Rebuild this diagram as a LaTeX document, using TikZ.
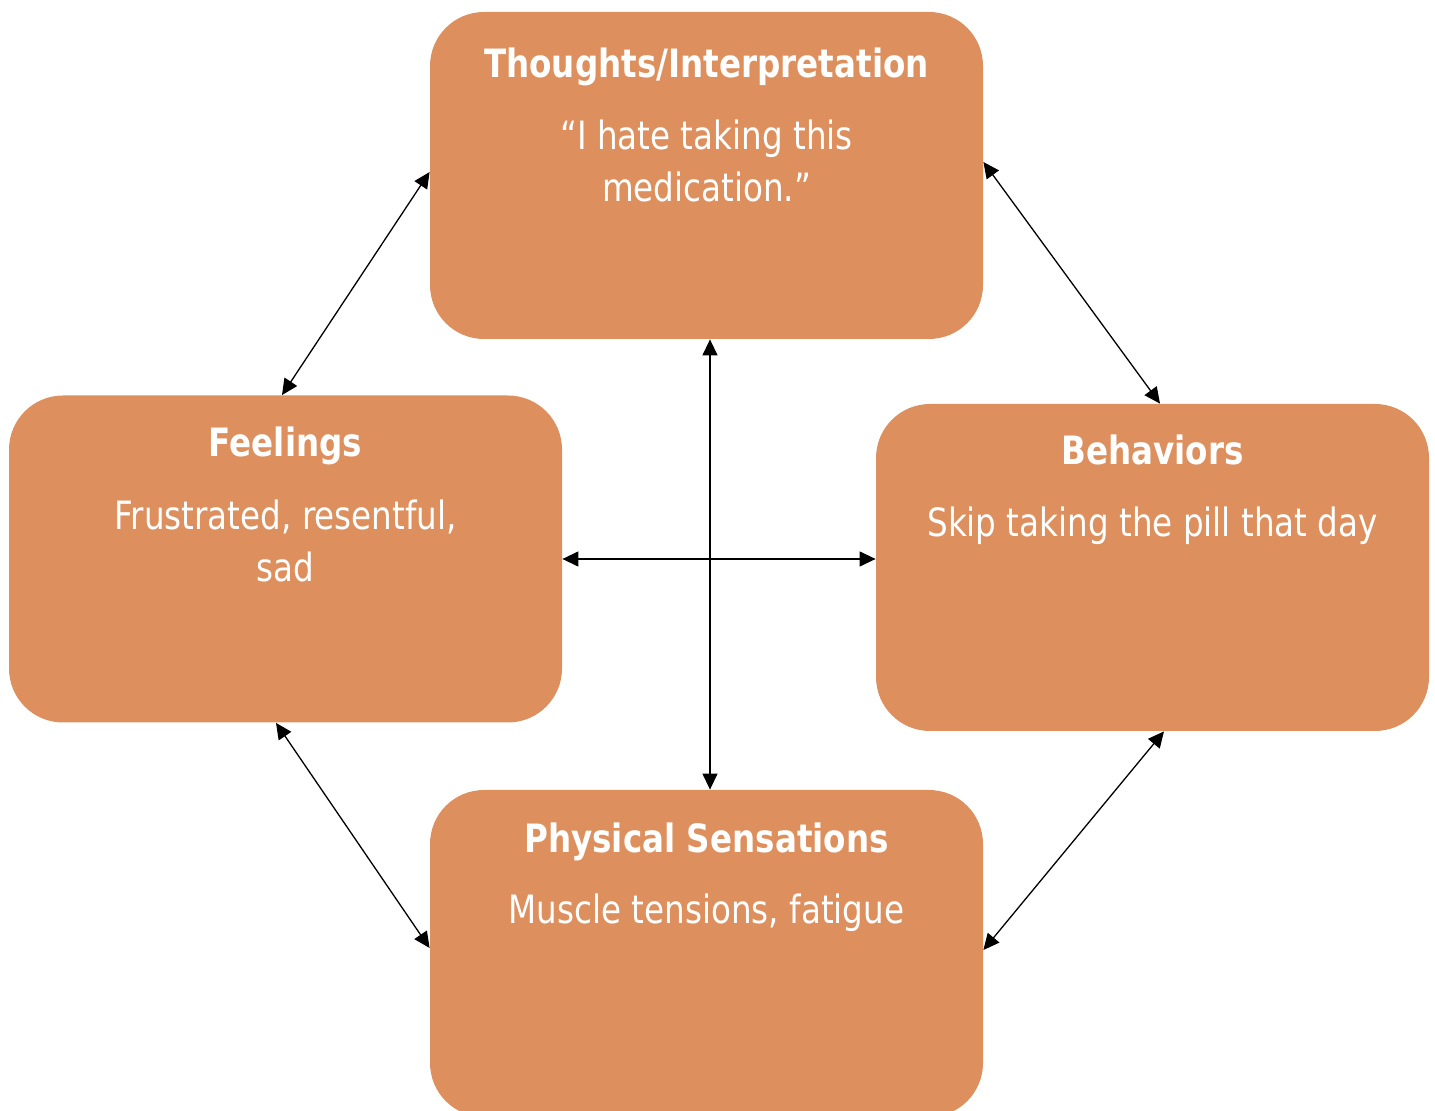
\documentclass[tikz,border=0pt]{standalone}
\usepackage{fontspec}
\setmainfont{DejaVu Sans}[FakeStretch=0.835]
\usetikzlibrary{arrows.meta}
\definecolor{stageorange}{RGB}{221,144,94}
\tikzset{
	stage/.style={fill=stageorange, draw=none, rounded corners=27pt, minimum width=276.5pt, minimum height=163.5pt, inner sep=0pt},
	stagetitle/.style={anchor=base, text=white, inner sep=0pt, font=\fontsize{19.5pt}{26pt}\selectfont\bfseries},
	stagetext/.style={anchor=base, text=white, inner sep=0pt, align=center, font=\fontsize{19.5pt}{26pt}\selectfont},
	link/.style={{Triangle[length=8pt,width=7.5pt]}-{Triangle[length=8pt,width=7.5pt]}, line width=0.65pt, black}
}
\begin{document}
\begin{tikzpicture}[x=0.5pt, y=-0.5pt]
	\useasboundingbox (0, 0) rectangle (1435, 1111);
	\node[stage] (th) at (706.5, 175.5) {};
	\node[stage] (fe) at (285.5, 559) {};
	\node[stage] (be) at (1152.5, 567.5) {};
	\node[stage] (ph) at (706.5, 953.5) {};

	\node[stagetitle] (th-title) at ([yshift=-33pt]th.north) {Thoughts/Interpretation};
	\node[stagetext] (th-text) at ([yshift=-95pt]th.north) {“I hate taking this\\medication.”};
	\node[stagetitle] (fe-title) at ([yshift=-30.5pt]fe.north) {Feelings};
	\node[stagetext] (fe-text) at ([yshift=-93pt]fe.north) {Frustrated, resentful,\\sad};
	\node[stagetitle] (be-title) at ([yshift=-30.5pt]be.north) {Behaviors};
	\node[stagetext] (be-text) at ([yshift=-66.5pt]be.north) {Skip taking the pill that day};
	\node[stagetitle] (ph-title) at ([yshift=-31.5pt]ph.north) {Physical Sensations};
	\node[stagetext] (ph-text) at ([yshift=-67pt]ph.north) {Muscle tensions, fatigue};

	\draw[link] ([yshift=1.75pt]th.west) -- ([xshift=-1.75pt]fe.north);
	\draw[link] ([yshift=6.75pt]th.east) -- ([xshift=3.75pt]be.north);
	\draw[link] ([xshift=1.75pt]th.south) -- ([xshift=1.75pt]ph.north);
	\draw[link] (fe.east) -- (fe.east -| be.west);
	\draw[link] ([xshift=-4.75pt]fe.south) -- ([yshift=2.75pt]ph.west);
	\draw[link] ([xshift=5.75pt]be.south) -- ([yshift=1.75pt]ph.east);
\end{tikzpicture}
\end{document}
